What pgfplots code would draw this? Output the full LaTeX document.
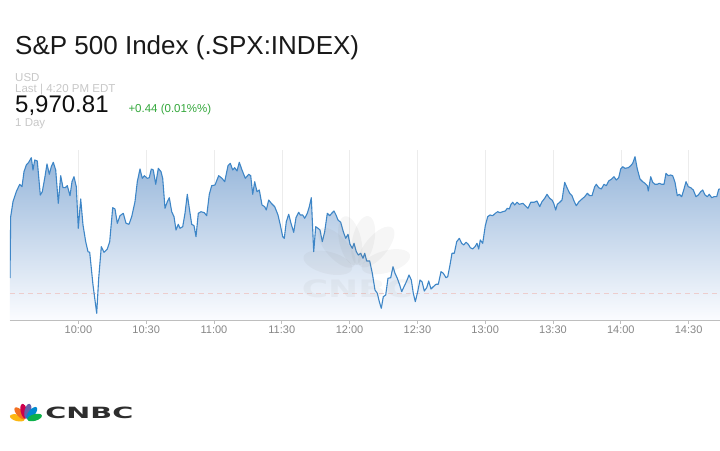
\documentclass[border=0pt]{standalone}
\usepackage{pgfplots}
\pgfplotsset{compat=1.18}
\usepackage{pgfplotstable}
\usepackage{fontspec}
\setmainfont{Liberation Sans}
\newfontfamily\logofont{DejaVu Sans}
\definecolor{linecol}{RGB}{62,134,199}
\definecolor{filltop}{RGB}{150,182,218}
\definecolor{fillbot}{RGB}{251,252,255}
\definecolor{gridcol}{RGB}{236,236,236}
\definecolor{axiscol}{RGB}{190,190,190}
\definecolor{tickcol}{RGB}{135,135,135}
\definecolor{lightgray}{RGB}{200,200,200}
\definecolor{upgreen}{RGB}{52,168,60}
\definecolor{closecol}{RGB}{236,205,205}
\definecolor{pcY}{RGB}{252,183,17}
\definecolor{pcO}{RGB}{243,112,33}
\definecolor{pcR}{RGB}{204,0,76}
\definecolor{pcP}{RGB}{100,96,170}
\definecolor{pcB}{RGB}{0,137,208}
\definecolor{pcG}{RGB}{13,177,75}

% x: horizontal position (10:00 = 78.4, 30 min = 67.8), v: height above baseline
\pgfplotstableread{
x v
10 42
10.7 103.3
13 118.3
16.3 128.3
19.7 135.7
22 133.3
24 148.3
26.3 155
28.7 157.7
31.3 162.3
33 150
34.7 160
37.3 159
40.3 125
42.3 128.3
44.7 141.7
47 156
49.3 145.7
51.3 153.3
53.3 157.7
55.7 150
58.3 116.7
60.7 144.3
63 132.3
65.3 132.3
67.3 134.3
70 124.3
72 138.3
74 143.3
76.3 133.3
78.3 91.7
80.7 121
83 95
85.7 78.3
88 68.3
89.7 67.7
93 35
96.7 6.7
98.7 41.7
101.3 73.3
104 67.7
107.3 71
109.7 78.3
112.7 112.3
115 111
117.3 96.7
120 104.3
123.3 106.7
126 96.7
129 95.7
131.7 103.3
135 118.3
137.3 138.3
140 151
142.3 141.7
144.3 144.3
147.3 141.7
149.3 142.3
151.3 151
153.3 150
155.7 135.7
158.3 151.7
161 148.3
162.7 141.7
165 111.7
167.3 118.3
169.3 122.3
171.7 108.3
174 103.3
176 90
178.3 95.7
180 91.7
182.7 93.3
185 106.7
187.3 125.7
189.3 111.7
191.7 95.7
194 94.3
196 83.3
198.3 106.7
201 108.3
204.3 107.3
206.7 104.3
209.3 125.7
211.7 134.3
215 135
218.7 144.3
222 141.7
224.7 138.3
228 154.3
230.3 156.7
232.7 150
234.7 152.3
237 149
239.3 157.7
242 150
245.3 141.7
248.7 145.7
250.7 144.3
252.7 125.7
254.7 138.3
257 128.3
259.3 130
262 115
264.7 113.3
266.3 110
268.7 120
271.3 116.7
274.7 113.3
278 105
280.3 95
282.7 83.3
284.3 81.7
286.3 98.3
288.7 105.7
291 96.7
293.7 87.7
296 102.3
298.7 107.7
300.3 105
302.7 105
304.7 101.7
307.3 106.7
309.3 113.3
311.3 122.3
313.7 68.3
315.7 93.3
318 91.7
320 90
322.3 78.3
324.7 88.3
327.3 106.7
329.7 104.3
331.7 106.7
334 109
336 105
338 100
340.7 97.7
343.3 88.3
345.7 81.7
348 85.7
350 75.7
352.3 71.7
354 76.7
356.3 68.3
358.3 65
360.7 66.7
363 61.7
364.7 66.7
366.7 59
369.7 59
372.3 46.7
375 30
377.3 26.7
379.3 18.3
381.3 11.7
383.3 23.3
385.7 25
388 41.7
390.7 42.3
393 53.3
395 46.7
397.3 41.7
399.7 35
401.7 28.3
404 33.3
406.7 39
409 45
411.3 40
413.3 26.7
415.3 18.3
417.7 28.3
420 40
422 38.3
424.3 29
426.7 32.3
428.7 39
431 31
433.3 33.3
436 35.7
438.3 35.7
441 48.3
443.3 46.7
446 42.3
447.7 43.3
450 55
452 66.7
454.3 66.7
456.7 78.3
459.3 81.7
461.7 76.7
463.7 75
466 77.7
468.3 75.7
470.3 72.3
472.7 71
475 73.3
477 76.7
478.7 71
480.3 80
482.7 76.7
485.3 94.3
487.7 103.3
490 105
492.7 104.3
495.3 106.7
497.7 108.3
500 107.3
502.7 108.3
505.3 109
507.3 111.7
509.3 111
511 115.7
512.7 117.7
514.7 115
517 117.7
519.3 115.7
523 116.7
525.3 114.3
528 111.7
530.7 117.7
534 117.7
537 119
539.7 113.3
542 118.3
544.7 121.7
547 125.7
549.7 121.7
552 120
553.7 116.7
555.7 110
557.3 115.7
559.7 117.7
562 120
564.7 137.7
567 132.3
569.7 126.7
572 124.3
574 119
576.3 114.3
579 118.3
582 121
584.7 123.3
587.3 126.7
589.7 124.3
592 124.3
594.7 133.3
596.3 135.7
598.7 132.3
601.3 131
604 135.7
606.3 134.3
608.7 139
611.3 140.7
614 143.3
616.3 140
618.7 142.3
620.7 151
622.7 153.3
625 151.7
628.3 152.3
630.7 154.3
632.7 156.7
635 163.3
637.3 151
640 141
642.7 138.3
645 136.7
647.3 134.3
648.3 129
650.7 143.3
652.7 137.7
655 135.7
657.3 135.7
659.3 136.7
661.7 135.7
664 135.7
666 146.7
668.3 144.3
670.7 145
672.7 144.3
675 137.7
677.3 124.3
679.3 125.7
681.7 123.3
684 131
686 138.3
688.3 133.3
690.7 132.3
693.3 130
696 123.3
698.3 125
700.7 128.3
702.7 130
705 125
707.3 123.3
709.3 125.7
711.7 122.3
714 123.3
716.7 123.3
718.7 130.7
720 131
}\spxdata

\begin{document}
\begin{tikzpicture}
\path[use as bounding box, fill=white] (0pt,0pt) rectangle (720pt,450pt);

% header texts
\node[anchor=base west, inner sep=0pt, font=\fontsize{26}{30}\selectfont, text={rgb,255:red,25;green,25;blue,25}] at (15pt,395pt) {S\&P 500 Index (.SPX:INDEX)};
\node[anchor=base west, inner sep=0pt, font=\fontsize{11.5}{13}\selectfont, text=lightgray] at (15pt,368.5pt) {USD};
\node[anchor=base west, inner sep=0pt, font=\fontsize{11.5}{13}\selectfont, text=lightgray] at (15pt,357pt) {Last | 4:20 PM EDT};
\node[anchor=base west, inner sep=0pt, font=\fontsize{24}{28}\selectfont, text={rgb,255:red,15;green,15;blue,15}] at (15pt,337pt) {5,970.81};
\node[anchor=base west, inner sep=0pt, font=\fontsize{11.5}{13}\selectfont, text=upgreen] at (128.3pt,337pt) {+0.44 (0.01\%\%)};
\node[anchor=base west, inner sep=0pt, font=\fontsize{11.5}{13}\selectfont, text=lightgray] at (15pt,323.5pt) {1 Day};

\begin{axis}[
  at={(10pt,130pt)}, anchor=south west,
  scale only axis, width=710pt, height=170pt,
  xmin=10, xmax=720, ymin=0, ymax=170,
  axis x line*=bottom, axis y line=none,
  x axis line style={draw=axiscol, line width=0.8pt},
  xtick={78.4,146.2,214,281.8,349.6,417.4,485.2,553,620.8,688.6},
  xticklabels={10:00,10:30,11:00,11:30,12:00,12:30,13:00,13:30,14:00,14:30},
  ytick={19,56,93,130}, yticklabels={},
  ymajorgrids, xmajorgrids,
  major grid style={draw=gridcol, line width=0.6pt},
  tick align=outside, major tick length=4pt,
  x tick style={draw=axiscol, line width=0.8pt},
  xticklabel style={font=\fontsize{11}{12}\selectfont, text=tickcol, anchor=base, yshift=-10pt, inner sep=0pt},
  clip=true,
]
\addplot[draw=none, top color=filltop, bottom color=fillbot] table[x=x, y=v] {\spxdata} \closedcycle;
\addplot[closecol, dashed, dash pattern=on 5pt off 4pt, line width=0.8pt] coordinates {(10,27) (720,27)};
\addplot[linecol, line width=1.1pt, line join=round] table[x=x, y=v] {\spxdata};
\end{axis}

% faint watermark
\begin{scope}[opacity=0.07]
\foreach \a in {166,132,103,78,50,16}{
  \begin{scope}[shift={(357pt,180pt)}, rotate=\a]
    \fill[gray] (30pt,0pt) ellipse (25pt and 11pt);
  \end{scope}
}
\node[anchor=base, inner sep=0pt, font=\logofont\bfseries\fontsize{24}{26}\selectfont, text=gray, xscale=1.5] at (357pt,152pt) {CNBC};
\end{scope}

% CNBC logo
\foreach \a/\c in {166/pcY,132/pcO,103/pcR,78/pcP,50/pcB,16/pcG}{
  \begin{scope}[shift={(26pt,30pt)}, rotate=\a]
    \fill[\c] (9pt,0pt) ellipse (7.5pt and 3.3pt);
  \end{scope}
}
\node[anchor=base west, inner sep=0pt, font=\logofont\bfseries\fontsize{15.5}{17}\selectfont, text={rgb,255:red,45;green,45;blue,45}, xscale=1.85] at (45pt,32pt) {CNBC};
\end{tikzpicture}
\end{document}
